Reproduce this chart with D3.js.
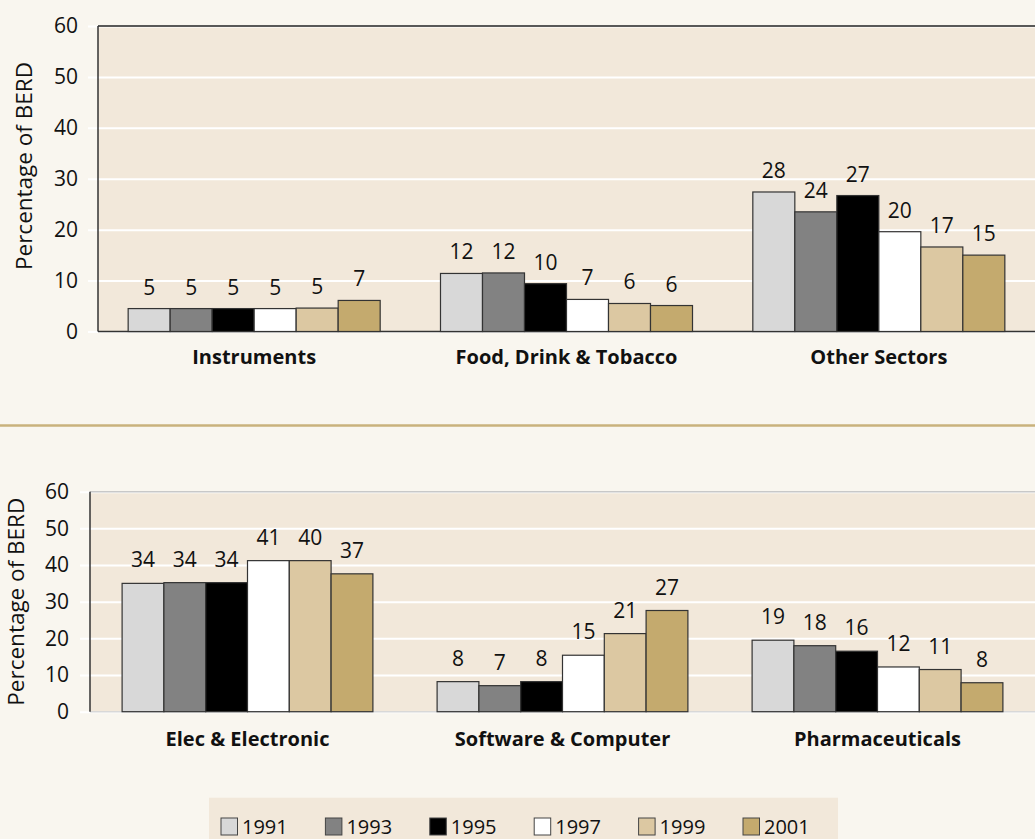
<!DOCTYPE html>
<html>
<head>
<meta charset="utf-8">
<script src="https://cdn.jsdelivr.net/npm/d3@7"></script>
<style>
  html, body { margin: 0; padding: 0; background: #f9f6ef; }
  svg { display: block; }
  text { font-family: "Open Sans", "Noto Sans", sans-serif; fill: #111; }
</style>
</head>
<body>
<svg id="chart" width="1035" height="839"></svg>
<script>
// ---- data ----
const years = ["1991", "1993", "1995", "1997", "1999", "2001"];
const yTicks = [0, 10, 20, 30, 40, 50, 60];

const topCategories = ["Instruments", "Food, Drink & Tobacco", "Other Sectors"];
const topInstruments = [4.5, 4.5, 4.5, 4.5, 4.6, 6.1];
const topFood = [11.4, 11.5, 9.4, 6.3, 5.5, 5.1];
const topOther = [27.4, 23.5, 26.7, 19.6, 16.6, 15.0];
const topInstrumentsLabels = [5, 5, 5, 5, 5, 7];
const topFoodLabels = [12, 12, 10, 7, 6, 6];
const topOtherLabels = [28, 24, 27, 20, 17, 15];

const bottomCategories = ["Elec & Electronic", "Software & Computer", "Pharmaceuticals"];
const bottomElec = [35.0, 35.2, 35.2, 41.2, 41.2, 37.6];
const bottomSoftware = [8.2, 7.1, 8.2, 15.4, 21.3, 27.6];
const bottomPharma = [19.5, 18.0, 16.5, 12.2, 11.5, 7.9];
const bottomElecLabels = [34, 34, 34, 41, 40, 37];
const bottomSoftwareLabels = [8, 7, 8, 15, 21, 27];
const bottomPharmaLabels = [19, 18, 16, 12, 11, 8];

const yearColors = ["#d8d8d8", "#828282", "#000000", "#ffffff", "#dcc8a2", "#c4aa6e"];

// ---- drawing ----
const svg = d3.select("#chart");
const color = d3.scaleOrdinal().domain(years).range(yearColors);

function panel(opt) {
  const g = svg.append("g");
  const x0 = d3.scaleBand().domain(opt.categories).range([opt.left, opt.right]).paddingInner(0).paddingOuter(0);
  const x1 = d3.scaleBand().domain(years).range([0, x0.bandwidth()]).paddingInner(0).paddingOuter(opt.outer);
  const y = d3.scaleLinear().domain([0, 60]).range([opt.bottom, opt.top]);

  // plot background
  g.append("rect").attr("x", opt.left).attr("y", opt.top)
    .attr("width", opt.right - opt.left).attr("height", opt.bottom - opt.top)
    .attr("fill", "#f2e8da");

  // gridlines + tick stubs (white), extending to the left of the axis
  const grid = g.append("g").attr("transform", `translate(${opt.right},0)`)
    .call(d3.axisLeft(y).tickValues(yTicks).tickSize(opt.right - opt.left + opt.tickLen).tickFormat(""));
  grid.select(".domain").remove();
  grid.selectAll(".tick line").attr("stroke", "#ffffff").attr("stroke-width", 2);

  // tick labels
  const ax = g.append("g").attr("transform", `translate(${opt.left},0)`)
    .call(d3.axisLeft(y).tickValues(yTicks).tickSize(0).tickPadding(opt.tickLen + opt.labelPad));
  ax.select(".domain").remove();
  ax.selectAll(".tick text").attr("font-size", 21).attr("fill", "#111");

  // frame lines
  g.append("line").attr("x1", opt.left).attr("x2", opt.right).attr("y1", opt.top).attr("y2", opt.top)
    .attr("stroke", opt.topStroke).attr("stroke-width", 1.5);
  g.append("line").attr("x1", opt.left).attr("x2", opt.right).attr("y1", opt.bottom).attr("y2", opt.bottom)
    .attr("stroke", opt.bottomStroke).attr("stroke-width", 1.5);
  g.append("line").attr("x1", opt.left).attr("x2", opt.left).attr("y1", opt.top).attr("y2", opt.bottom)
    .attr("stroke", "#333").attr("stroke-width", 1.5);

  // bars
  opt.categories.forEach((cat, ci) => {
    const vals = opt.values[ci];
    const labs = opt.labels[ci];
    const cg = g.append("g").attr("transform", `translate(${x0(cat)},0)`);
    cg.selectAll("rect").data(years).join("rect")
      .attr("x", d => x1(d))
      .attr("y", (d, i) => y(vals[i]))
      .attr("width", x1.bandwidth())
      .attr("height", (d, i) => y(0) - y(vals[i]))
      .attr("fill", d => color(d))
      .attr("stroke", "#333").attr("stroke-width", 1.2);
    cg.selectAll("text.val").data(years).join("text").attr("class", "val")
      .attr("x", d => x1(d) + x1.bandwidth() / 2)
      .attr("y", (d, i) => y(vals[i]) - opt.labelOffset)
      .attr("text-anchor", "middle").attr("font-size", 21)
      .text((d, i) => labs[i]);
    g.append("text")
      .attr("x", x0(cat) + x0.bandwidth() / 2)
      .attr("y", opt.bottom + opt.catOffset)
      .attr("text-anchor", "middle").attr("font-size", 20).attr("font-weight", "bold")
      .text(cat);
  });

  // y title
  g.append("text")
    .attr("transform", `translate(${opt.titleX},${opt.titleY}) rotate(-90)`)
    .attr("text-anchor", "middle").attr("font-size", 22.5)
    .text("Percentage of BERD");
}

panel({
  categories: topCategories,
  values: [topInstruments, topFood, topOther],
  labels: [topInstrumentsLabels, topFoodLabels, topOtherLabels],
  left: 98, right: 1035, top: 26, bottom: 331.5,
  outer: 0.718, tickLen: 10, labelPad: 10,
  topStroke: "#222", bottomStroke: "#333",
  labelOffset: 14, catOffset: 32.5, titleX: 32, titleY: 166
});

panel({
  categories: bottomCategories,
  values: [bottomElec, bottomSoftware, bottomPharma],
  labels: [bottomElecLabels, bottomSoftwareLabels, bottomPharmaLabels],
  left: 90, right: 1035, top: 491.7, bottom: 711.7,
  outer: 0.768, tickLen: 10, labelPad: 11,
  topStroke: "#c8c8c8", bottomStroke: "#d8d8d8",
  labelOffset: 16, catOffset: 34, titleX: 24, titleY: 601.7
});

// separator line
svg.append("line").attr("x1", 0).attr("x2", 1035).attr("y1", 425.5).attr("y2", 425.5)
  .attr("stroke", "#c9b27c").attr("stroke-width", 2.5);

// legend
const legend = svg.append("g");
legend.append("rect").attr("x", 209).attr("y", 797.7).attr("width", 629).attr("height", 45).attr("fill", "#f2e8da");
const lx = d3.scalePoint().domain(years).range([221, 743]);
const items = legend.selectAll("g.item").data(years).join("g").attr("class", "item")
  .attr("transform", d => `translate(${lx(d)},818)`);
items.append("rect").attr("width", 16.5).attr("height", 17)
  .attr("fill", d => color(d)).attr("stroke", "#444").attr("stroke-width", 1);
items.append("text").attr("x", 21).attr("y", 15.5).attr("font-size", 20).text(d => d);
</script>
</body>
</html>
